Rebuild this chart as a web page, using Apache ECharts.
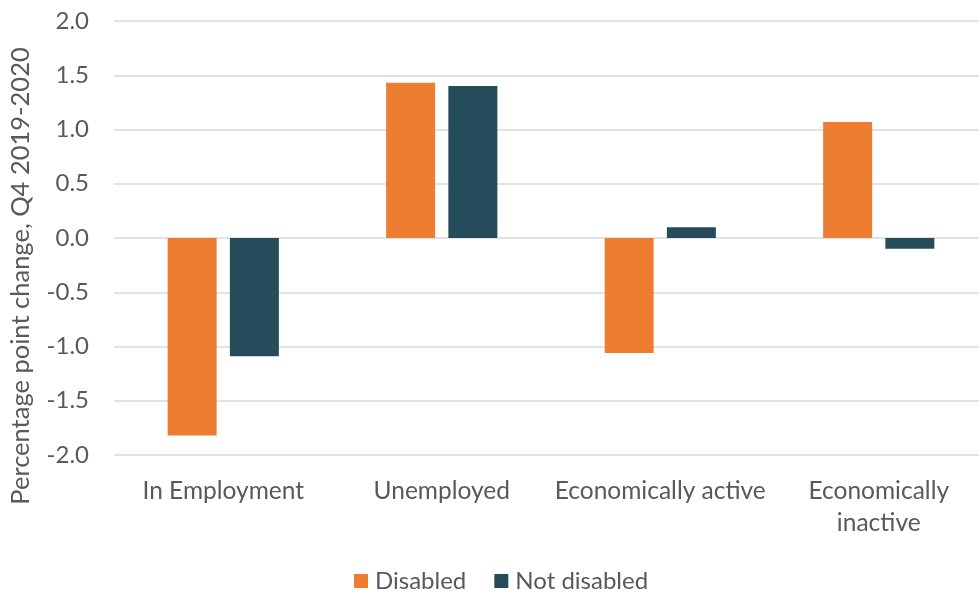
<!DOCTYPE html>
<html>
<head>
<meta charset="utf-8">
<script src="https://cdn.jsdelivr.net/npm/echarts@6/dist/echarts.min.js"></script>
<style>
  html, body { margin: 0; padding: 0; background: #fff; }
  #chart { width: 979px; height: 594px; }
</style>
</head>
<body>
<div id="chart"></div>
<script>
// Labour market status categories
const categories = ['In Employment', 'Unemployed', 'Economically active', 'Economically\ninactive'];
// Percentage point change, Q4 2019 to Q4 2020
const disabled = [-1.82, 1.43, -1.06, 1.07];
const notDisabled = [-1.09, 1.40, 0.10, -0.10];
const yTicks = { min: -2, max: 2, interval: 0.5 };

const textColor = '#595959';
const fontFamily = 'Lato, "Noto Sans", sans-serif';

const chart = echarts.init(document.getElementById('chart'));
chart.setOption({
  animation: false,
  textStyle: { fontFamily: fontFamily, color: textColor },
  grid: {
    left: 114, width: 874, top: 21, bottom: 139,
    containLabel: false,
    outerBoundsMode: 'none'
  },
  legend: {
    top: 564,
    left: 349,
    itemWidth: 14,
    itemHeight: 14,
    itemGap: 28,
    icon: 'rect',
    textStyle: { fontSize: 24, color: textColor, fontFamily: fontFamily, padding: [0, 0, 0, 2] },
    data: ['Disabled', 'Not disabled']
  },
  xAxis: {
    type: 'category',
    data: categories,
    axisLine: { show: false },
    axisTick: { show: false },
    axisLabel: {
      color: textColor,
      fontSize: 24.5,
      fontFamily: fontFamily,
      interval: 0,
      lineHeight: 32,
      margin: 20
    },
    position: 'bottom'
  },
  yAxis: {
    type: 'value',
    min: yTicks.min,
    max: yTicks.max,
    interval: yTicks.interval,
    name: 'Percentage point change, Q4 2019-2020',
    nameLocation: 'middle',
    nameGap: 80,
    nameTextStyle: { fontSize: 25.5, color: textColor, fontFamily: fontFamily, padding: [0, 76, 0, 0] },
    axisLine: { show: false },
    axisTick: { show: false },
    axisLabel: {
      color: textColor,
      fontSize: 24,
      fontFamily: fontFamily,
      margin: 25,
      formatter: v => v.toFixed(1)
    },
    splitLine: { lineStyle: { color: '#d9d9d9', width: 1.5 } }
  },
  series: [
    {
      name: 'Disabled',
      type: 'bar',
      data: disabled,
      barWidth: 49,
      barGap: '27%',
      itemStyle: { color: '#ED7D31' }
    },
    {
      name: 'Not disabled',
      type: 'bar',
      data: notDisabled,
      barWidth: 49,
      itemStyle: { color: '#264B5A' }
    }
  ]
});
</script>
</body>
</html>
